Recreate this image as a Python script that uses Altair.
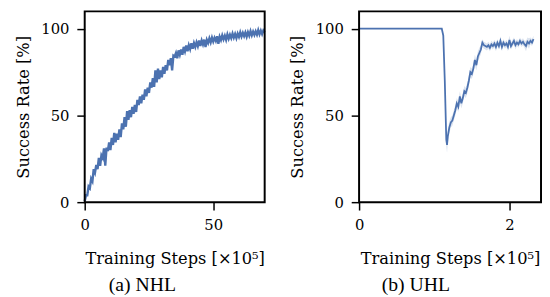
import altair as alt
import pandas as pd

# NHL: success rate sampled every 0.5 (x1e5 steps)
nhl_y = [0.5, 4, 4, 9, 8, 13.5, 12, 19, 17, 21.5, 19, 25.5, 21, 27, 25.5, 31, 21, 31.5, 29.5, 34.5,
         30, 37, 33, 40, 34.5, 39.5, 36, 42, 37.5, 45.5, 42, 49, 43.5, 52.5, 47.5, 53, 49, 55, 51, 56,
         52, 59, 56, 61, 57, 62, 59, 65, 61, 66, 63, 69, 66, 71.5, 66.5, 76, 69, 77, 71, 76,
         72, 78, 74, 79, 76, 82, 79, 83, 76, 84.5, 84, 86, 83, 87.5, 85, 88, 85, 89.5, 87, 90.3,
         87, 90.5, 88.3, 91.6, 88.5, 91.7, 89.5, 92.2, 90, 93.2, 90, 93.2, 91, 93.7, 89.4, 93.6, 91.8, 94.5, 92.2, 94.9,
         92.6, 94.8, 93, 95.7, 91.3, 95.4, 93.5, 96.2, 93.9, 96, 93.6, 96.7, 94.3, 96.5, 94.6, 97.2, 94.9, 97, 94.6, 97.2,
         95.3, 97.9, 95.5, 97.6, 95.7, 97.8, 95.4, 98, 96, 98.6, 96.2, 98.3, 96.4, 98.5, 96.6, 99.2, 96.8, 98.9, 96.9, 99,
         98]
nhl_x = [i * 0.5 for i in range(len(nhl_y))]

# UHL
uhl_x = [0.00, 1.10, 1.12, 1.14, 1.16, 1.17, 1.18,
         1.20, 1.22, 1.24, 1.26, 1.28, 1.30, 1.32, 1.34, 1.36, 1.38,
         1.40, 1.42, 1.44, 1.46, 1.48, 1.50, 1.52, 1.54, 1.56, 1.58,
         1.60, 1.62, 1.64, 1.66, 1.68, 1.70, 1.72, 1.74, 1.76, 1.78,
         1.80, 1.82, 1.84, 1.86, 1.88, 1.90, 1.92, 1.94, 1.96, 1.98,
         2.00, 2.02, 2.04, 2.06, 2.08, 2.10, 2.12, 2.14, 2.16, 2.18,
         2.20, 2.22, 2.24, 2.26, 2.28, 2.30, 2.32]
uhl_y = [100, 100, 96, 70, 36, 33, 38,
         43, 46, 47, 50, 53, 57, 55, 61, 57, 60,
         64, 63, 66, 70, 75, 74, 77, 82, 79, 84,
         86, 88, 92, 90.5, 90, 89.5, 90.5, 89, 91, 90,
         91.5, 89.5, 92, 90, 93, 89.5, 92, 90.5, 91.5, 89.5,
         93.5, 90, 91.5, 93, 90.5, 92, 91, 93, 91.5, 92.5,
         91, 90, 92.5, 91.5, 93, 92, 94]
uhl_ci = [0, 0, 1.5, 3, 4, 4.5, 4,
          3.5, 3, 3, 3, 3, 3, 3, 3, 3, 3,
          3, 3, 3, 3, 3, 3, 3, 3, 3, 3,
          3, 2.5, 2, 2, 2, 2, 2, 2, 2, 2,
          2, 2.5, 2, 2, 2.5, 2.5, 2, 2, 2, 2.5,
          2.5, 2, 2, 2, 2.5, 2, 2, 2, 2, 2,
          2, 3, 2.5, 3, 2, 2, 2]

BLUE = "#4C72B0"
SERIF = "DejaVu Serif"

nhl = pd.DataFrame({"x": nhl_x, "y": nhl_y})
uhl = pd.DataFrame({"x": uhl_x, "y": uhl_y,
                    "lo": [a - b for a, b in zip(uhl_y, uhl_ci)],
                    "hi": [a + b for a, b in zip(uhl_y, uhl_ci)]})
one = pd.DataFrame({"k": [0]})

y_axis = alt.Axis(values=[0, 50, 100], title="Success Rate [%]", format="d")


def x_axis(vals):
    return alt.Axis(values=vals, title="Training Steps [×10⁵]", format="d",
                    labelPadding=8, titlePadding=18, labelFlush=False)


def caption(t):
    return alt.TitleParams(t, orient="bottom", frame="bounds", anchor="middle",
                           font="Liberation Serif", fontSize=20, fontWeight="normal",
                           color="black", offset=9)


def frame():
    return alt.Chart(one).mark_rect(fill=None, stroke="black", strokeWidth=2).encode(
        x=alt.value(0), x2=alt.value("width"), y=alt.value(0), y2=alt.value("height"))


nx = alt.Scale(domain=[0, 70], nice=False)
ys = alt.Scale(domain=[0, 110], nice=False)
nline = alt.Chart(nhl).mark_line(color=BLUE, strokeWidth=2.4).encode(
    x=alt.X("x:Q", scale=nx, axis=x_axis([0, 50])),
    y=alt.Y("y:Q", scale=ys, axis=y_axis),
)
left = alt.layer(nline, frame()).properties(width=183, height=194, title=caption("(a) NHL"))

xs = alt.Scale(domain=[0, 2.42], nice=False)
band = alt.Chart(uhl).mark_area(color=BLUE, opacity=0.2).encode(
    x=alt.X("x:Q", scale=xs, axis=x_axis([0, 2])),
    y=alt.Y("lo:Q", scale=ys, axis=y_axis),
    y2="hi:Q",
)
line = alt.Chart(uhl).mark_line(color=BLUE, strokeWidth=1.8).encode(
    x=alt.X("x:Q", scale=xs),
    y=alt.Y("y:Q", scale=ys),
)
right = alt.layer(band, line, frame()).properties(width=185, height=194, title=caption("(b) UHL"))

chart = alt.hconcat(left, right, spacing=20).properties(
    padding={"left": 7, "top": 0, "right": 0, "bottom": 0}
).configure(
    background="white",
    view=alt.ViewConfig(stroke=None),
    axis=alt.AxisConfig(
        grid=False, domain=False,
        tickSize=8, tickWidth=1.5, tickColor="black", labelPadding=8,
        labelFont=SERIF, labelFontSize=15, labelColor="black", labelFontWeight="normal",
        titleFont=SERIF, titleFontSize=16.5, titleFontWeight="normal",
        titleColor="black", titlePadding=10,
    ),
)

chart.save("out.html", embed_options={"renderer": "svg", "actions": False})
